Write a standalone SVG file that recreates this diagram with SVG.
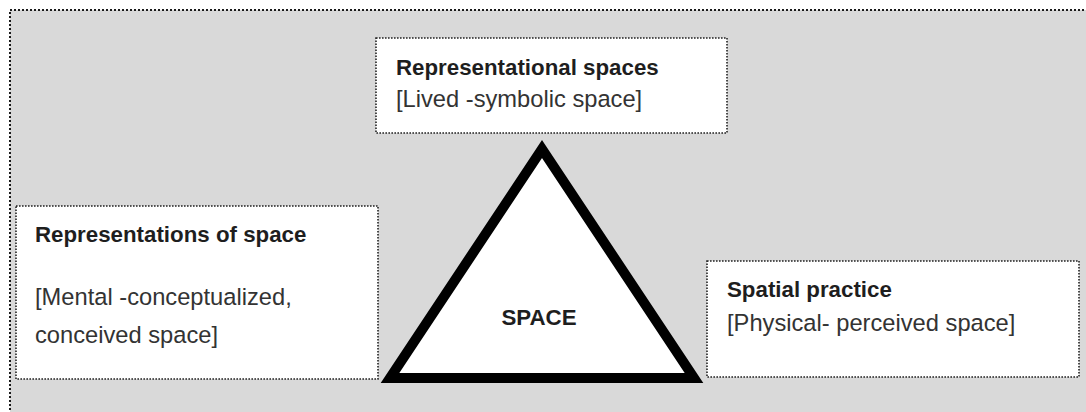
<svg xmlns="http://www.w3.org/2000/svg" width="1086" height="412" viewBox="0 0 1086 412">
  <style>
    .frame { fill: #d9d9d9; stroke: #1a1a1a; stroke-width: 2; stroke-dasharray: 2 2; }
    .box { fill: #ffffff; stroke: #222222; stroke-width: 1.6; stroke-dasharray: 1.6 1.4; }
    .title { font-family: "Liberation Sans", Arial, sans-serif; font-weight: bold; font-size: 22.3px; fill: #1e1e1e; }
    .sub { font-family: "Liberation Sans", Arial, sans-serif; font-size: 23.7px; fill: #333333; }
    .tri { fill: #ffffff; stroke: #000000; stroke-width: 10; stroke-linejoin: miter; stroke-miterlimit: 10; }
  </style>
  <rect x="0" y="0" width="1086" height="412" fill="#ffffff"/>
  <rect class="frame" x="10" y="10" width="1090" height="420"/>

  <g id="space">
    <polygon class="tri" points="542,149 390,378 694,378"/>
    <text class="title" x="539" y="325" text-anchor="middle">SPACE</text>
  </g>

  <g id="representational-spaces">
    <rect class="box" x="376" y="38" width="351" height="95"/>
    <text class="title" x="396" y="75">Representational spaces</text>
    <text class="sub" x="396" y="107">[Lived -symbolic space]</text>
  </g>

  <g id="representations-of-space">
    <rect class="box" x="16" y="206" width="362" height="173"/>
    <text class="title" x="35" y="242">Representations of space</text>
    <text class="sub" x="35" y="305">[Mental -conceptualized,</text>
    <text class="sub" x="35" y="343">conceived space]</text>
  </g>

  <g id="spatial-practice">
    <rect class="box" x="707" y="261" width="372" height="116"/>
    <text class="title" x="727" y="297">Spatial practice</text>
    <text class="sub" x="727" y="331">[Physical- perceived space]</text>
  </g>

  <g id="connectors"></g>
</svg>
